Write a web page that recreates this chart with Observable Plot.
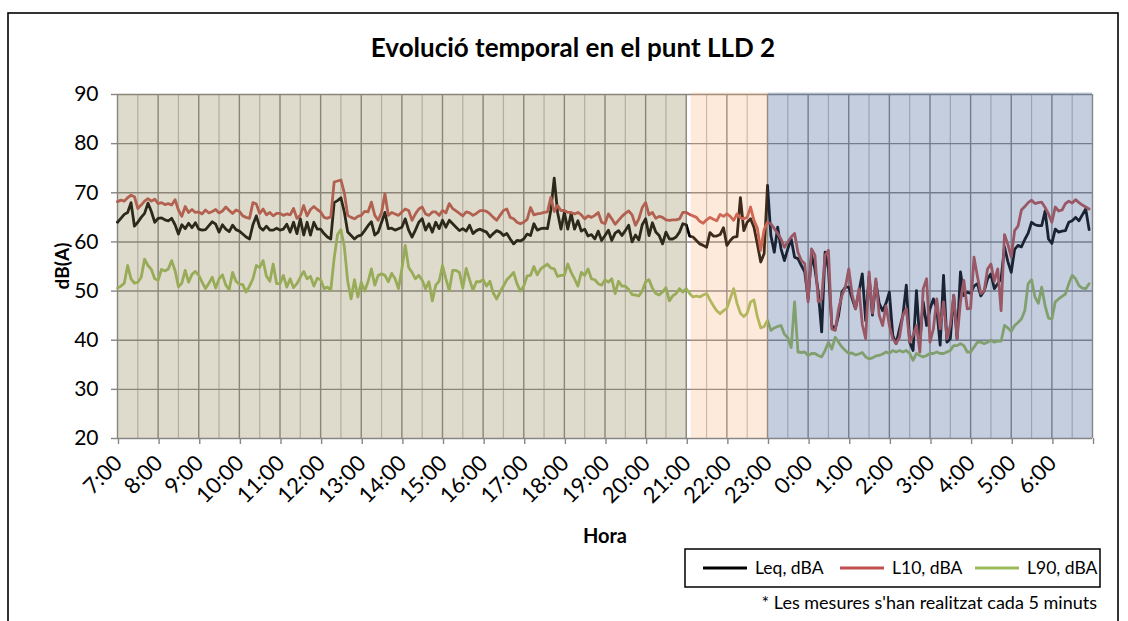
<!DOCTYPE html>
<html><head><meta charset="utf-8">
<script src="https://cdn.jsdelivr.net/npm/d3@7"></script>
<script src="https://cdn.jsdelivr.net/npm/@observablehq/plot@0.6"></script>
<style>body{margin:0;background:#fff} svg{display:block}</style>
</head><body><div id="chart"></div>
<script>
const title = "Evolució temporal en el punt LLD 2";
const yTitle = "dB(A)";
const xTitle = "Hora";
const footnote = "* Les mesures s'han realitzat cada 5 minuts";
const hourLabels = ["7:00","8:00","9:00","10:00","11:00","12:00","13:00","14:00","15:00","16:00","17:00","18:00","19:00","20:00","21:00","22:00","23:00","0:00","1:00","2:00","3:00","4:00","5:00","6:00"];
const yTicks = [20,30,40,50,60,70,80,90];
const seriesNames = ["Leq, dBA","L10, dBA","L90, dBA"];
// periods in hours after 7:00 (day, evening, night)
const periodStart = [0, 14.12, 16.02];
const periodEnd = [14.03, 16.02, 24];

// 5-minute values from 7:00 to 6:55 (one row per hour)
const leq = [
64.0,64.8,65.6,66.0,68.0,63.2,64.0,65.0,65.8,67.9,66.2,64.0,
64.8,64.9,64.5,64.3,64.8,63.5,61.6,63.5,62.7,63.8,62.9,63.9,
62.6,62.4,62.5,63.3,64.1,63.6,62.0,63.5,62.6,62.1,63.4,62.5,
62.2,61.6,61.0,60.6,63.5,65.3,63.0,62.4,63.2,62.4,62.4,62.8,
62.4,62.6,63.6,62.0,64.0,61.7,64.7,61.4,64.0,61.4,64.0,62.6,
62.6,61.7,61.0,60.6,68.0,68.4,69.0,66.1,62.0,61.3,60.6,61.2,
61.4,62.3,63.3,64.1,61.4,62.0,64.0,66.0,62.7,62.8,62.4,62.7,
63.0,64.7,62.4,61.0,62.4,64.0,64.7,62.4,63.7,62.0,64.0,62.7,
64.4,63.0,64.4,63.7,63.0,62.3,62.7,62.2,63.4,61.7,62.3,62.6,
62.3,62.0,61.0,61.7,62.3,62.0,61.3,61.7,60.6,59.6,60.3,60.2,
60.6,61.6,61.3,63.7,62.4,62.7,62.8,62.7,66.5,73.0,66.0,62.6,
66.0,62.6,65.8,62.6,64.3,62.2,62.6,61.2,61.5,60.6,62.2,60.3,
61.3,62.4,60.3,61.8,62.3,61.3,62.3,63.4,60.0,61.4,60.4,63.5,
64.7,61.3,63.9,62.0,61.3,59.6,62.0,60.6,60.6,61.0,62.0,63.7,
63.5,61.2,61.0,60.3,59.6,59.3,58.9,61.9,61.2,61.2,61.5,62.9,
59.3,60.3,61.0,61.1,69.0,62.3,64.0,64.7,63.0,59.6,55.9,57.6,
71.5,61.3,57.9,63.0,58.6,56.2,58.6,60.6,56.9,56.6,55.2,53.9,
48.4,57.3,54.5,49.8,41.7,57.9,54.5,43.0,42.3,45.1,49.8,50.8,
50.8,48.5,46.4,49.8,53.5,44.0,53.0,45.1,51.9,47.5,46.0,47.5,
49.8,41.0,39.3,42.3,45.1,51.2,39.6,37.9,50.1,39.6,47.8,43.0,
46.4,48.4,46.4,39.0,53.2,39.6,40.3,49.1,40.3,53.9,49.1,49.8,
49.5,51.0,51.5,49.0,50.0,52.5,53.5,50.5,51.5,52.5,59.0,56.0,
53.8,58.5,59.3,59.0,60.5,61.8,64.0,63.5,63.3,63.3,66.3,60.6,
59.7,62.6,62.0,62.2,62.3,64.0,64.3,65.0,64.3,65.5,66.7,62.5
];
const l10 = [
68.2,68.5,68.3,69.0,69.5,69.2,66.8,67.5,68.3,68.8,68.3,68.7,
67.8,68.0,67.6,67.8,67.5,68.6,66.5,65.2,67.2,66.0,66.6,66.0,
66.1,65.7,66.5,65.9,66.2,66.6,65.9,66.3,67.1,66.4,65.8,66.5,
66.2,65.3,65.0,64.8,68.0,67.7,65.8,66.7,65.5,66.0,65.3,65.8,
65.8,65.4,65.7,65.5,66.8,64.8,65.4,67.4,65.3,66.6,67.2,66.6,
66.1,65.0,64.8,65.1,72.2,72.4,72.6,70.0,65.4,65.0,64.7,65.2,
65.4,66.2,66.1,68.1,65.4,64.4,66.0,69.8,65.4,66.0,65.7,65.4,
66.1,66.7,66.4,64.4,65.7,66.7,67.1,65.7,65.4,66.1,66.1,65.4,
66.4,65.9,67.8,66.8,66.3,65.8,65.3,66.1,65.9,65.4,65.8,66.3,
66.4,66.2,65.7,65.0,64.4,65.4,66.4,66.7,65.0,64.7,64.0,63.7,
64.0,64.6,67.0,65.5,65.7,65.8,66.0,66.1,69.1,66.2,67.4,66.4,
66.4,66.0,66.0,65.7,66.0,65.5,64.7,65.3,65.0,65.4,66.0,64.0,
63.7,65.7,64.7,63.6,64.4,65.2,65.8,66.3,65.5,63.4,64.7,67.0,
68.0,65.5,66.0,64.8,65.2,65.0,64.5,64.4,64.5,64.5,64.7,66.0,
66.0,65.6,65.3,65.0,64.2,63.8,64.5,65.0,64.6,64.3,65.6,65.2,
65.7,65.2,64.4,65.7,64.9,64.7,65.0,67.1,64.4,62.8,58.3,62.5,
64.0,63.7,62.7,61.7,60.6,58.9,60.0,61.0,61.7,57.9,56.2,55.6,
47.8,58.6,57.3,47.8,48.4,57.3,58.3,42.3,42.0,46.4,49.1,50.8,
54.5,49.3,46.4,50.5,43.2,40.3,53.9,45.5,52.5,45.1,43.0,47.0,
43.0,40.3,39.3,40.6,45.1,46.4,39.6,41.0,43.0,37.6,50.5,52.5,
39.6,42.3,48.4,42.3,47.8,40.3,43.0,49.1,40.3,47.8,52.2,46.4,
46.5,56.9,53.0,49.5,50.0,54.5,55.5,52.0,54.5,46.0,61.5,59.5,
56.9,62.3,63.2,66.5,67.2,68.0,68.5,67.8,68.0,68.1,67.0,65.7,
64.0,67.1,66.3,66.5,67.8,68.3,67.9,68.6,68.0,67.5,67.1,66.7
];
const l90 = [
50.6,51.0,51.6,55.2,52.5,51.6,51.8,52.8,56.5,55.2,54.4,52.5,
52.2,54.4,54.1,54.5,56.2,54.2,50.9,51.6,54.2,51.8,53.4,54.0,
53.2,51.8,50.5,51.6,52.8,50.6,52.5,53.3,51.2,50.3,53.8,52.0,
51.4,51.3,49.8,51.0,52.5,55.2,54.8,56.2,53.0,52.0,55.5,51.5,
51.5,53.2,50.8,52.5,50.7,51.5,52.8,54.0,52.5,53.0,51.0,52.6,
52.3,50.5,50.8,50.2,56.7,61.5,62.5,59.0,52.0,48.4,52.3,48.8,
51.8,50.0,51.9,54.5,51.2,53.2,53.5,53.2,51.9,53.6,52.5,50.5,
54.5,59.3,54.8,53.8,52.5,53.2,52.2,50.5,51.9,48.0,51.2,52.0,
55.2,52.5,50.1,54.2,54.2,53.8,50.6,54.6,52.3,50.2,51.9,51.9,
52.3,51.0,52.0,49.6,48.4,49.8,51.0,52.3,53.0,53.8,51.5,50.0,
51.0,53.1,53.2,55.0,53.3,54.5,55.0,55.5,54.7,54.5,53.0,53.2,
53.2,55.5,53.8,52.5,51.0,53.8,53.2,54.5,52.5,52.3,51.5,51.2,
52.3,51.8,52.5,49.5,52.0,51.0,51.0,50.3,49.3,49.2,49.0,50.0,
51.9,52.3,50.6,49.5,49.2,49.8,50.7,48.0,49.0,49.5,50.5,49.8,
50.5,49.5,48.8,49.0,48.8,49.2,49.5,48.2,47.0,46.0,45.4,46.0,
46.5,48.5,50.5,47.5,45.5,44.8,45.5,47.8,48.2,44.8,42.5,42.8,
44.0,42.0,42.5,42.8,43.0,41.2,40.5,38.5,47.8,37.6,37.5,37.6,
36.9,37.3,37.3,36.9,36.6,37.9,39.6,38.2,40.6,39.6,38.6,37.9,
37.3,37.4,37.0,37.2,37.5,36.6,36.2,36.4,36.8,36.9,37.2,37.6,
37.3,37.9,37.6,37.9,37.6,37.9,37.3,35.9,37.3,36.9,36.6,36.9,
37.3,37.3,37.6,37.3,37.3,37.6,37.9,38.9,38.9,39.3,38.9,37.6,
37.6,38.6,39.6,39.6,39.3,39.6,40.0,39.6,39.8,39.8,43.0,42.5,
41.8,43.0,43.6,44.3,46.0,51.5,52.3,48.8,47.5,50.8,47.0,44.5,
44.3,47.8,48.4,48.9,49.4,51.5,53.2,52.5,51.1,50.6,50.5,51.5
];

const seriesValues = [leq, l10, l90];
const seriesColors = ["#000000", "#c0504d", "#9bbb59"];
const periodColors = ["#918755", "#f7ab6b", "#4c6b9b"];
const periodOpacity = [0.3, 0.25, 0.33];
const periodTop = [90, 90.3, 90.3];

const series = seriesValues.map((vals, s) => vals.map((v, i) => ({t: i / 12, v, s: seriesNames[s]})));
const periods = periodStart.map((a, i) => ({x1: a, x2: periodEnd[i], y1: 20, y2: periodTop[i]}));
const hours = d3.range(0, 25);
const halfHours = d3.range(0, 24).map(h => h + 0.5);
const font = "Lato, 'Open Sans', sans-serif";

const plot = Plot.plot({
  width: 1128, height: 621,
  marginLeft: 117, marginRight: 36, marginTop: 94, marginBottom: 183,
  style: {fontFamily: font, fontSize: "21px", color: "#000", background: "transparent", overflow: "visible"},
  x: {domain: [0, 24]},
  y: {domain: [20, 90]},
  marks: [
    Plot.ruleX(halfHours, {stroke: "#bfbfbf", strokeWidth: 1.2}),
    Plot.ruleX(hours, {stroke: "#868686", strokeWidth: 1.4}),
    Plot.ruleY(yTicks, {stroke: "#868686", strokeWidth: 1.4}),
    ...series.map((d, s) => Plot.line(d, {x: "t", y: "v", stroke: seriesColors[s], strokeWidth: 2.8, strokeLinejoin: "round"})),
    ...periods.map((p, i) => Plot.rect([p], {x1: "x1", x2: "x2", y1: "y1", y2: "y2", fill: periodColors[i], fillOpacity: periodOpacity[i]})),
    Plot.axisY({ticks: yTicks, tickSize: 6, tickPadding: 13, stroke: "#868686", strokeWidth: 1.4, fill: "#000", fontSize: 21, label: null}),
    Plot.axisX({ticks: hours, tickFormat: h => h < 24 ? hourLabels[h] : "", tickRotate: -45, tickSize: 6, tickPadding: 15, dx: 1, stroke: "#868686", strokeWidth: 1.4, fill: "#000", fontSize: 22, label: null})
  ]
});
document.getElementById("chart").appendChild(plot);

const svg = d3.select(plot);
svg.append("rect").attr("x", 8).attr("y", 13).attr("width", 1110).attr("height", 640)
  .attr("fill", "none").attr("stroke", "#000").attr("stroke-width", 1.6);
svg.append("text").attr("x", 573).attr("y", 57).attr("text-anchor", "middle")
  .attr("font-family", font).attr("font-weight", "bold").attr("font-size", 26).attr("fill", "#000").text(title);
svg.append("text").attr("transform", "translate(69,266) rotate(-90)").attr("text-anchor", "middle")
  .attr("font-family", font).attr("font-weight", "bold").attr("font-size", 19).attr("fill", "#000").text(yTitle);
svg.append("text").attr("x", 605).attr("y", 543).attr("text-anchor", "middle")
  .attr("font-family", font).attr("font-weight", "bold").attr("font-size", 20).attr("fill", "#000").text(xTitle);

// legend
const lg = svg.append("g");
lg.append("rect").attr("x", 685).attr("y", 549).attr("width", 415).attr("height", 38)
  .attr("fill", "#fff").attr("stroke", "#000").attr("stroke-width", 1.5);
const legX = [703, 840, 975];
seriesNames.forEach((name, i) => {
  lg.append("line").attr("x1", legX[i]).attr("x2", legX[i] + 44).attr("y1", 568).attr("y2", 568)
    .attr("stroke", seriesColors[i]).attr("stroke-width", 2.8);
  lg.append("text").attr("x", legX[i] + 52).attr("y", 574).attr("text-anchor", "start")
    .attr("font-family", font).attr("font-size", 17.5).attr("fill", "#000").text(name);
});
svg.append("text").attr("x", 1097).attr("y", 609).attr("text-anchor", "end")
  .attr("font-family", font).attr("font-size", 18).attr("fill", "#000").text(footnote);
</script></body></html>
